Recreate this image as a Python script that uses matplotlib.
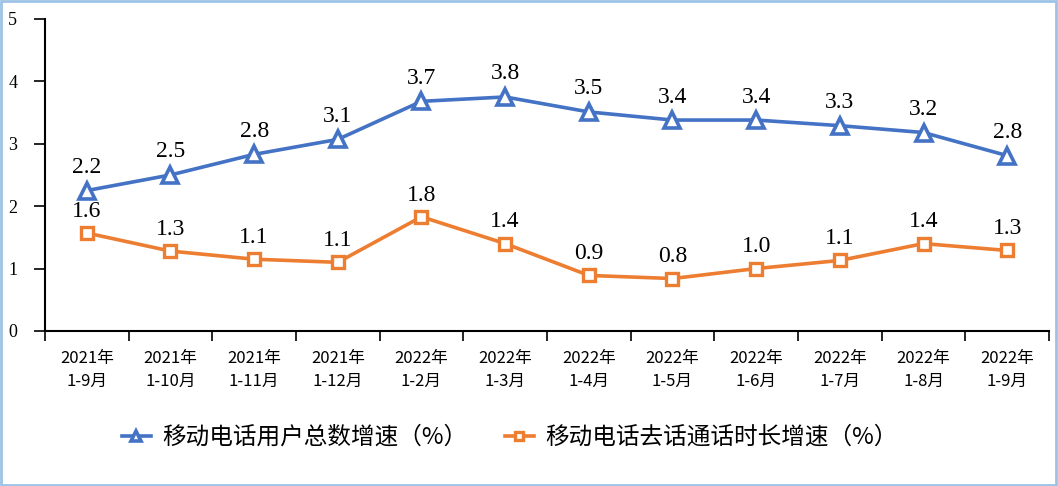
import matplotlib.pyplot as plt
from matplotlib.patches import Rectangle
import numpy as np

plt.rcParams['font.family'] = ['Noto Sans CJK SC', 'DejaVu Sans']

periods = ['2021年\n1-9月', '2021年\n1-10月', '2021年\n1-11月', '2021年\n1-12月',
           '2022年\n1-2月', '2022年\n1-3月', '2022年\n1-4月', '2022年\n1-5月',
           '2022年\n1-6月', '2022年\n1-7月', '2022年\n1-8月', '2022年\n1-9月']
users = [2.25, 2.5, 2.83, 3.07, 3.68, 3.75, 3.51, 3.38, 3.38, 3.29, 3.18, 2.81]
users_lbl = ['2.2', '2.5', '2.8', '3.1', '3.7', '3.8', '3.5', '3.4', '3.4', '3.3', '3.2', '2.8']
calls = [1.57, 1.28, 1.15, 1.1, 1.83, 1.4, 0.89, 0.84, 1.0, 1.13, 1.4, 1.29]
calls_lbl = ['1.6', '1.3', '1.1', '1.1', '1.8', '1.4', '0.9', '0.8', '1.0', '1.1', '1.4', '1.3']

blue = '#4472C4'
orange = '#ED7D31'

fig = plt.figure(figsize=(10.58, 4.86), dpi=100)
ax = fig.add_axes([0.0425, 0.319, 0.949, 0.642])

x = np.arange(len(periods))
ax.plot(x, users, color=blue, lw=2.6, marker='^', ms=11, mfc='white', mec=blue, mew=2.6,
        label='移动电话用户总数增速（%）')
ax.plot(x, calls, color=orange, lw=2.6, marker='s', ms=8, mfc='white', mec=orange, mew=2.4,
        label='移动电话去话通话时长增速（%）')

for xi, v, t in zip(x, users, users_lbl):
    ax.annotate(t, (xi, v), xytext=(0, 9), textcoords='offset points', ha='center', va='bottom',
                fontsize=17, family='Liberation Serif')
for xi, v, t in zip(x, calls, calls_lbl):
    ax.annotate(t, (xi, v), xytext=(0, 8), textcoords='offset points', ha='center', va='bottom',
                fontsize=17, family='Liberation Serif')

ax.set_xlim(-0.5, len(periods) - 0.5)
ax.set_ylim(0, 5)
ax.set_yticks(range(6))
ax.set_yticklabels([str(i) for i in range(6)], family='Liberation Serif', fontsize=13)
ax.set_xticks(np.arange(len(periods) + 1) - 0.5)
ax.set_xticklabels([])
ax.set_xticks(x, minor=True)
ax.set_xticklabels(periods, minor=True, fontsize=12, linespacing=1.45)
ax.tick_params(axis='x', which='minor', length=0, pad=14)
ax.tick_params(axis='x', which='major', length=7, width=1.2, direction='out')
ax.tick_params(axis='y', length=8, width=1.2, direction='out', pad=12)
for s in ['top', 'right']:
    ax.spines[s].set_visible(False)
for s in ['left', 'bottom']:
    ax.spines[s].set_linewidth(1.5)

fig.legend(loc='center', bbox_to_anchor=(0.482, 0.1), ncol=2, frameon=False, fontsize=17,
           handlelength=1.2, handletextpad=0.5, columnspacing=1.6, markerscale=0.7)

fig.patches.append(Rectangle((0.001, 0.002), 0.997, 0.995, transform=fig.transFigure,
                             fill=False, edgecolor='#9DC3E6', lw=2))

fig.savefig('out.png', dpi=100)
